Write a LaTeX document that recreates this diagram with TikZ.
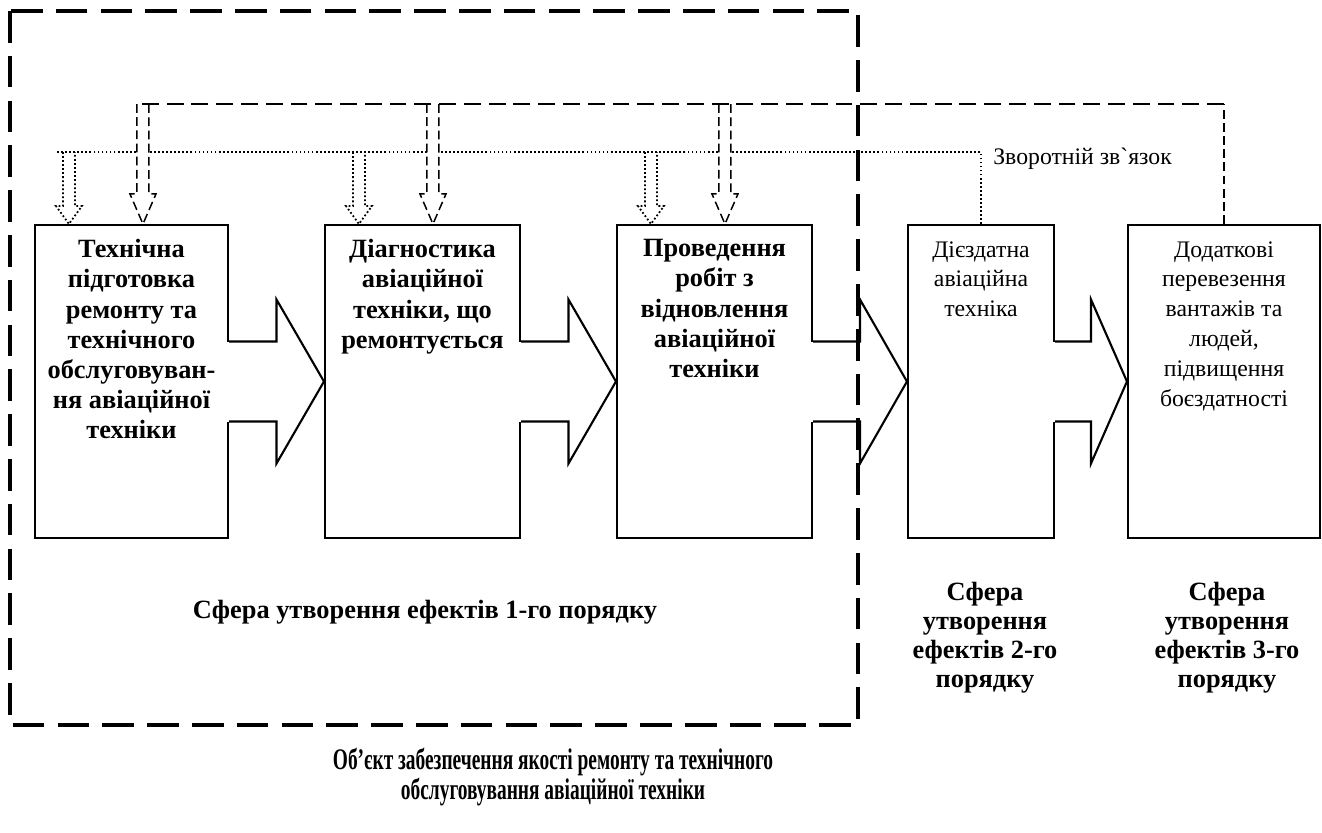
\documentclass[tikz,border=0pt]{standalone}
\usepackage{fontspec}
\setmainfont{Liberation Serif}
\newfontfamily\fbfont{Liberation Serif}
\newfontfamily\capfont{Liberation Serif}[FakeStretch=0.65]
\usetikzlibrary{calc}

\tikzset{
  box/.style={draw, line width=1.2pt, fill=white, inner sep=0pt, minimum height=6.26cm},
  boxline/.style={line width=1.2pt, line join=miter},
  boxtext/.style={anchor=north, align=center, inner sep=0pt, font=\fontsize{13.5}{17}\selectfont},
  boldtext/.style={boxtext, font=\fontsize{15}{17.2}\selectfont\bfseries},
  frameline/.style={line width=2pt, dash pattern=on 18pt off 7.5pt},
  fbdashed/.style={line width=0.85pt, dash pattern=on 9.6pt off 4.5pt},
  fbdashvert/.style={line width=0.85pt, dash pattern=on 5pt off 2.5pt},
  fbdotted/.style={line width=1pt, dash pattern=on 1pt off 1.3pt}
}

% hollow arrow: style, tip, feedback line, head length
\newcommand{\hollowarrow}[4]{%
  \path (#2 |- #3) coordinate (top);
  \filldraw[fill=white, #1] ([shift={(-6,0)}]top) -- ([shift={(-6,-#4)}]#2) -- ([shift={(-13,-#4)}]#2) -- (#2)
    -- ([shift={(13,-#4)}]#2) -- ([shift={(6,-#4)}]#2) -- ([shift={(6,0)}]top);
}

\begin{document}
\begin{tikzpicture}[x=0.02cm, y=-0.02cm]
\useasboundingbox (0,0) rectangle (1322,832);

%Boxes
\node[box, minimum width=3.86cm] (b1) at (131.5,381.5) {};
\node[box, minimum width=3.9cm] (b2) at (422.5,381.5) {};
\node[box, minimum width=3.9cm] (b3) at (714.5,381.5) {};
\node[box, minimum width=2.92cm] (b4) at (981,381.5) {};
\node[box, minimum width=3.84cm] (b5) at (1224,381.5) {};

%Box texts
\node[boldtext] (t1) at ([shift={(0,15)}]b1.north)
  {Технічна\\ підготовка\\ ремонту та\\ технічного\\ обслуговуван-\\ ня авіаційної\\ техніки};
\node[boldtext] (t2) at ([shift={(0,15)}]b2.north)
  {Діагностика\\ авіаційної\\ техніки, що\\ ремонтується};
\node[boldtext] (t3) at ([shift={(0,15)}]b3.north)
  {Проведення\\ робіт з\\ відновлення\\ авіаційної\\ техніки};
\node[boxtext] (t4) at ([shift={(0,17)}]b4.north) {Дієздатна\\ авіаційна\\ техніка};
\node[boxtext] (t5) at ([shift={(0,17)}]b5.north)
  {Додаткові\\ перевезення\\ вантажів та\\ людей,\\ підвищення\\ боєздатності};

%Block arrows
\foreach \a/\b in {b1/b2, b2/b3, b3/b4, b4/b5}{
  \coordinate (m) at ($(\a.east)!0.5!(\b.west)$);
  \fill[white] ([shift={(-2,-40)}]\a.east) rectangle ([shift={(0,40)}]m);
  \draw[boxline] ([shift={(0,-40)}]\a.east) -- ([shift={(0,-40)}]m) -- ([shift={(0,-82)}]m) -- (\b.west)
    -- ([shift={(0,82)}]m) -- ([shift={(0,40)}]m) -- ([shift={(0,40)}]\a.east);
}

%Feedback
\coordinate (fbdot) at (57,152);
\coordinate (fbdash) at (137,104);
\foreach \b in {b1, b2, b3}{
  \coordinate (tip) at ([shift={(35,0)}]\b.north west);
  \hollowarrow{fbdotted}{tip}{fbdot}{18}
}
\draw[fbdotted] (b4.north) -- (b4.north |- fbdot) -- (fbdot);
\foreach \b in {b1, b2, b3}{
  \coordinate (tip) at ([shift={(109,0)}]\b.north west);
  \hollowarrow{fbdashvert}{tip}{fbdash}{30}
}
\draw[fbdashvert] (b5.north) -- (b5.north |- fbdash);
\draw[fbdashed] (b5.north |- fbdash) -- (fbdash);
\node[anchor=west, inner sep=0pt, font=\fbfont\fontsize{13.5}{17}\selectfont] (fblabel)
  at ([shift={(12,7)}]b4.north |- fbdot) {Зворотній зв`язок};

%Frame
\draw[frameline] (10,11) rectangle (858,725);

%Spheres
\node[font=\fontsize{15}{17}\selectfont\bfseries] (s1) at (425,612) {Сфера утворення ефектів 1-го порядку};
\node[boldtext, font=\fontsize{15}{16.5}\selectfont\bfseries] (s2) at (985,582) {Сфера\\ утворення\\ ефектів 2-го\\ порядку};
\node[boldtext, font=\fontsize{15}{16.5}\selectfont\bfseries] (s3) at (1227,582) {Сфера\\ утворення\\ ефектів 3-го\\ порядку};

%Caption
\node[align=center, font=\capfont\bfseries\fontsize{17}{15.3}\selectfont] (cap) at (553,777)
  {Об’єкт забезпечення якості ремонту та технічного\\ обслуговування авіаційної техніки};

\end{tikzpicture}
\end{document}
